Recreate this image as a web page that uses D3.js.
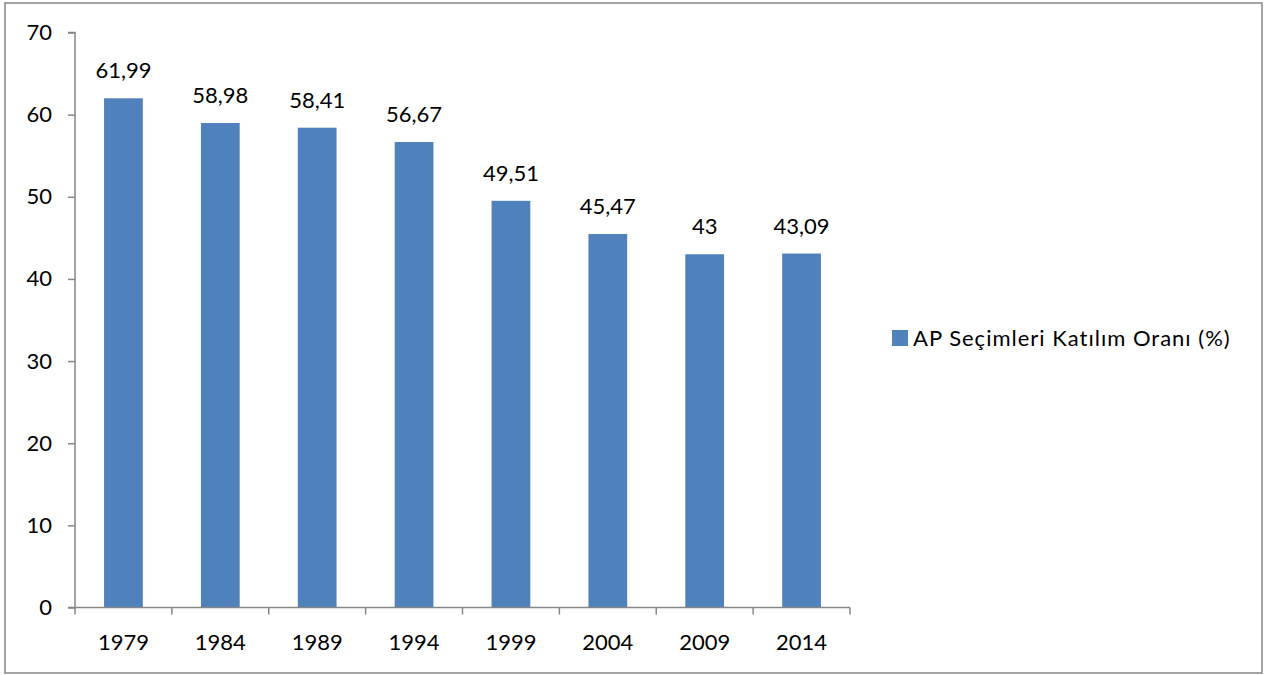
<!DOCTYPE html>
<html>
<head>
<meta charset="utf-8">
<script src="https://cdn.jsdelivr.net/npm/d3@7"></script>
<style>
  body { margin: 0; background: #fff; }
  text { font-family: Lato, "Open Sans", sans-serif; fill: #000; }
</style>
</head>
<body>
<script>
let years = ['1979', '1984', '1989', '1994', '1999', '2004', '2009', '2014']
let turnout = [61.99, 58.98, 58.41, 56.67, 49.51, 45.47, 43, 43.09]
let labels = ['61,99', '58,98', '58,41', '56,67', '49,51', '45,47', '43', '43,09']
let yTicks = [0, 10, 20, 30, 40, 50, 60, 70]
let seriesName = 'AP Seçimleri Katılım Oranı (%)'

let width = 1264
let height = 675
let barColor = '#4f81bd'
let gray = '#868686'
let fontSize = '22px'

let svg = d3.select('body').append('svg')
    .attr('width', width)
    .attr('height', height)

// chart frame
svg.append('rect')
    .attr('x', 5).attr('y', 3)
    .attr('width', 1257).attr('height', 670)
    .attr('fill', '#fff')
    .attr('stroke', gray)
    .attr('stroke-width', 1.5)

let xScale = d3.scaleBand()
    .domain(years)
    .range([75, 850])
    .paddingInner(0.6)
    .paddingOuter(0.3)

let yScale = d3.scaleLinear()
    .domain([0, 70])
    .range([607.5, 32.5])

// bars
svg.selectAll('rect.bar')
    .data(years)
    .enter()
    .append('rect')
    .attr('class', 'bar')
    .attr('x', d => xScale(d))
    .attr('width', xScale.bandwidth())
    .attr('y', (d, i) => yScale(turnout[i]))
    .attr('height', (d, i) => yScale(0) - yScale(turnout[i]))
    .attr('fill', barColor)

// value labels
svg.selectAll('text.val')
    .data(years)
    .enter()
    .append('text')
    .attr('class', 'val')
    .attr('x', d => xScale(d) + xScale.bandwidth() / 2)
    .attr('y', (d, i) => yScale(turnout[i]) - 20)
    .attr('text-anchor', 'middle')
    .style('font-size', fontSize)
    .text((d, i) => labels[i])

// y axis
let yAxis = d3.axisLeft(yScale).tickValues(yTicks).tickSize(7).tickPadding(16)
let gy = svg.append('g')
    .attr('transform', 'translate(75, 0)')
    .call(yAxis)
gy.select('.domain').attr('stroke', gray).attr('stroke-width', 1.5)
    .attr('d', 'M-7,32.5H0V607.5H-7')
gy.selectAll('.tick line').attr('stroke', gray).attr('stroke-width', 1.5)
gy.selectAll('.tick text').style('font-size', fontSize).attr('fill', '#000')

// x axis with boundary ticks
let xLine = d3.scaleLinear().domain([0, years.length]).range([75, 850])
let gx = svg.append('g')
gx.append('line')
    .attr('x1', 75).attr('x2', 850)
    .attr('y1', yScale(0)).attr('y2', yScale(0))
    .attr('stroke', gray).attr('stroke-width', 1.5)
gx.selectAll('line.tk')
    .data(d3.range(years.length + 1))
    .enter()
    .append('line')
    .attr('class', 'tk')
    .attr('x1', d => xLine(d)).attr('x2', d => xLine(d))
    .attr('y1', yScale(0)).attr('y2', yScale(0) + 7)
    .attr('stroke', gray).attr('stroke-width', 1.5)
gx.selectAll('text')
    .data(years)
    .enter()
    .append('text')
    .attr('x', d => xScale(d) + xScale.bandwidth() / 2)
    .attr('y', 650)
    .attr('text-anchor', 'middle')
    .style('font-size', fontSize)
    .text(d => d)

// legend
let legend = svg.append('g').attr('transform', 'translate(892, 330)')
legend.append('rect')
    .attr('width', 16).attr('height', 16)
    .attr('fill', barColor)
legend.append('text')
    .attr('x', 21).attr('y', 16)
    .style('font-size', fontSize)
    .style('letter-spacing', '1px')
    .text(seriesName)
</script>
</body>
</html>
